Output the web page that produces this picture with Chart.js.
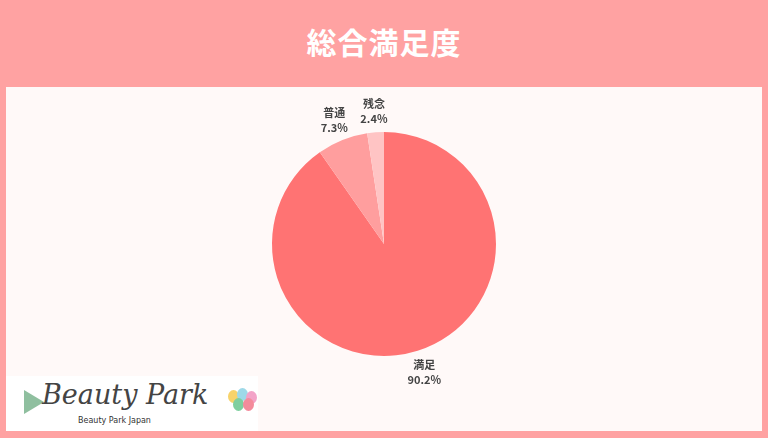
<!DOCTYPE html>
<html>
<head>
<meta charset="utf-8">
<script src="https://cdn.jsdelivr.net/npm/chart.js@4/dist/chart.umd.min.js"></script>
<style>
  html, body { margin: 0; padding: 0; }
  body { width: 768px; height: 438px; background: #ffa2a2; position: relative; overflow: hidden;
         font-family: "Noto Sans CJK JP", "Noto Sans", sans-serif; }
  h1 { position: absolute; left: 0; top: 0; width: 768px; height: 87px; margin: 0; line-height: 82px;
       text-align: center; color: #fff; font-size: 30px; font-weight: bold; letter-spacing: 1px; }
  #panel { position: absolute; left: 6px; top: 87px; width: 756px; height: 344px; background: #fff9f8; }
  #logo { position: absolute; left: 6px; top: 376px; width: 252px; height: 55px; background: #fff; }
  #logo .name { position: absolute; left: 36px; top: 3px; font-family: "DejaVu Serif", serif; font-style: italic;
                font-size: 27px; color: #444; letter-spacing: 0px; }
  #logo .sub { position: absolute; left: 72px; top: 40px; font-family: "DejaVu Sans", sans-serif; font-size: 8px; color: #333; }
  #logo .tri { position: absolute; left: 18px; top: 14px; width: 0; height: 0;
               border-top: 12px solid transparent; border-bottom: 12px solid transparent; border-left: 20px solid #8fbf9f; }
  .egg { position: absolute; width: 11px; height: 13px; border-radius: 50%; }
</style>
</head>
<body>
<h1>総合満足度</h1>
<div id="panel"><canvas id="myChart" width="756" height="344"></canvas></div>
<div id="logo">
  <div class="tri"></div>
  <div class="name">Beauty Park</div>
  <div class="sub">Beauty Park Japan</div>
  <div class="egg" style="left:222px;top:14px;background:#f7d36b"></div>
  <div class="egg" style="left:231px;top:12px;background:#9ed9e8"></div>
  <div class="egg" style="left:240px;top:15px;background:#f3a3c8"></div>
  <div class="egg" style="left:227px;top:22px;background:#7fcf9f"></div>
  <div class="egg" style="left:237px;top:22px;background:#f48b9b"></div>
</div>
<script>
var labels = ['満足', '普通', '残念'];
var values = [90.2, 7.3, 2.4];
var sliceColors = ['#ff7373', '#ff9e9e', '#ffc4c4'];

// labels outside each slice, name on top and percent below
var outLabels = {
  id: 'outLabels',
  afterDatasetsDraw: function(chart) {
    var ctx = chart.ctx;
    var meta = chart.getDatasetMeta(0);
    ctx.save();
    ctx.fillStyle = '#444';
    ctx.textAlign = 'center';
    ctx.textBaseline = 'middle';
    ctx.font = 'bold 11px "Noto Sans CJK JP", sans-serif';
    meta.data.forEach(function(arc, i) {
      var mid = (arc.startAngle + arc.endAngle) / 2;
      var r = arc.outerRadius + 22;
      var x = arc.x + Math.cos(mid) * r;
      var y = arc.y + Math.sin(mid) * r;
      ctx.fillText(labels[i], x, y - 7);
      ctx.fillText(values[i].toFixed(1) + '%', x, y + 8);
    });
    ctx.restore();
  }
};

new Chart('myChart', {
  type: 'pie',
  data: {
    labels: labels,
    datasets: [{
      data: values,
      backgroundColor: sliceColors,
      borderWidth: 0
    }]
  },
  options: {
    responsive: false,
    animation: false,
    layout: { padding: { top: 45, bottom: 75 } },
    plugins: {
      legend: { display: false },
      tooltip: { enabled: false }
    }
  },
  plugins: [outLabels]
});
</script>
</body>
</html>
